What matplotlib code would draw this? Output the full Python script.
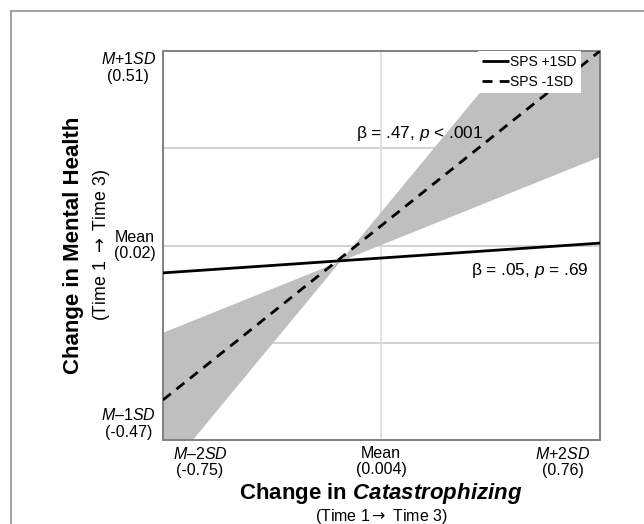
import numpy as np
import matplotlib
matplotlib.use("Agg")
import matplotlib.pyplot as plt
from matplotlib.lines import Line2D
from matplotlib.transforms import ScaledTranslation

plt.rcParams['font.family'] = ['Liberation Sans', 'DejaVu Sans']
plt.rcParams['mathtext.fontset'] = 'custom'
plt.rcParams['mathtext.rm'] = 'Liberation Sans'
plt.rcParams['mathtext.it'] = 'Liberation Sans:italic'
plt.rcParams['mathtext.bf'] = 'Liberation Sans:bold'
plt.rcParams['mathtext.bfit'] = 'Liberation Sans:bold:italic'
plt.rcParams['mathtext.sf'] = 'DejaVu Sans'

# ---- data ----
x_points = [-0.75, 0.76]                 # M-2SD, M+2SD of change in catastrophizing
sps_high = [-0.049, 0.026]               # SPS +1SD predicted change in mental health
sps_low = [-0.369, 0.51]                 # SPS -1SD predicted change in mental health
band_a = [-0.200, 0.243]                 # CI boundary (SPS -1SD)
band_b = [-0.561, 0.771]                 # CI boundary (SPS -1SD)

x_ticks = [-0.75, 0.004, 0.76]
x_labels = ['$\\mathit{M}$–2$\\mathit{SD}$\n(-0.75)', 'Mean\n(0.004)', '$\\mathit{M}$+2$\\mathit{SD}$\n(0.76)']
y_ticks = [-0.47, 0.02, 0.51]
y_labels = ['$\\mathit{M}$–1$\\mathit{SD}$\n(-0.47)', 'Mean\n(0.02)', '$\\mathit{M}$+1$\\mathit{SD}$\n(0.51)']
series_names = ['SPS +1SD', 'SPS -1SD']
annot_low = 'β = .47, $\\mathit{p}$ < .001'
annot_high = 'β = .05, $\\mathit{p}$ = .69'

fig = plt.figure(figsize=(6.44, 5.24), dpi=100)
ax = fig.add_axes([163/644, 84/524, 437/644, 389/524])

xmin, xmax = x_ticks[0], x_ticks[-1]
ymin, ymax = y_ticks[0], y_ticks[-1]
ax.set_xlim(xmin, xmax)
ax.set_ylim(ymin, ymax)

# grid
for gy in np.linspace(ymin, ymax, 5)[1:-1]:
    ax.axhline(gy, color='#d2d2d2', lw=1.4, zorder=0)
ax.axvline(x_ticks[1], color='#dcdcdc', lw=1.2, zorder=0)

# confidence band
ax.fill_between(x_points, band_a, band_b, color='#bfbfbf', lw=0, zorder=1)

l1, = ax.plot(x_points, sps_high, color='black', lw=2.0, solid_capstyle='butt', zorder=3)
l2, = ax.plot(x_points, sps_low, color='black', lw=2.0, dashes=(3.6, 2.6), zorder=3)

leg = ax.legend([l1, l2], series_names, loc='upper right', bbox_to_anchor=(0.956, 1.0),
                fontsize=10, frameon=True, fancybox=False, framealpha=1.0,
                edgecolor='white', borderpad=0.3, labelspacing=0.4,
                handlelength=1.9, handletextpad=0.1, borderaxespad=0.0)
leg.get_frame().set_linewidth(0)
leg.set_zorder(4)

ax.text(0.138, 0.303, annot_low, fontsize=12.4, ha='center', va='center', zorder=5)
ax.text(0.518, -0.043, annot_high, fontsize=12.4, ha='center', va='center', zorder=5)

# ticks
ax.set_xticks(x_ticks)
ax.set_xticklabels(x_labels, fontsize=11.5, linespacing=1.15)
ax.set_yticks(y_ticks)
ax.set_yticklabels(y_labels, fontsize=11.5, linespacing=1.15, multialignment='center')
ax.tick_params(length=0, pad=4)
xl = ax.get_xticklabels()
xl[0].set_transform(xl[0].get_transform() + ScaledTranslation(37/100, 0, fig.dpi_scale_trans))
xl[-1].set_transform(xl[-1].get_transform() + ScaledTranslation(-37/100, 0, fig.dpi_scale_trans))
for lab in xl:
    lab.set_multialignment('center')
yl = ax.get_yticklabels()
yl[0].set_va('bottom')
yl[1].set_va('center')
yl[1].set_transform(yl[1].get_transform() + ScaledTranslation(2/100, -3/100, fig.dpi_scale_trans))
yl[-1].set_va('top')
ax.tick_params(axis='y', pad=5)

for s in ax.spines.values():
    s.set_color('#808080')
    s.set_linewidth(1.4)

# axis titles
fig.text(73/644, 1 - 245/524, 'Change in Mental Health', rotation=90, fontsize=16,
         fontweight='bold', ha='center', va='center')
fig.text(102/644, 1 - 245/524, '(Time 1 $\\mathsf{\\rightarrow}$ Time 3)', rotation=90,
         fontsize=12.8, ha='center', va='center')
fig.text(381/644, 1 - 494/524, 'Change in $\\mathbfit{Catastrophizing}$', fontsize=16,
         fontweight='bold', ha='center', va='center')
fig.text(381/644, 1 - 516/524, '(Time 1$\\mathsf{\\rightarrow}$ Time 3)', fontsize=11.5,
         ha='center', va='center')

# outer frame (top and left edges)
fig.add_artist(Line2D([11/644, 11/644], [0, 1 - 11/524], transform=fig.transFigure,
                      color='#9a9a9a', lw=1.3))
fig.add_artist(Line2D([11/644, 1], [1 - 11/524, 1 - 11/524], transform=fig.transFigure,
                      color='#9a9a9a', lw=1.3))

fig.savefig('out.png', dpi=100)
